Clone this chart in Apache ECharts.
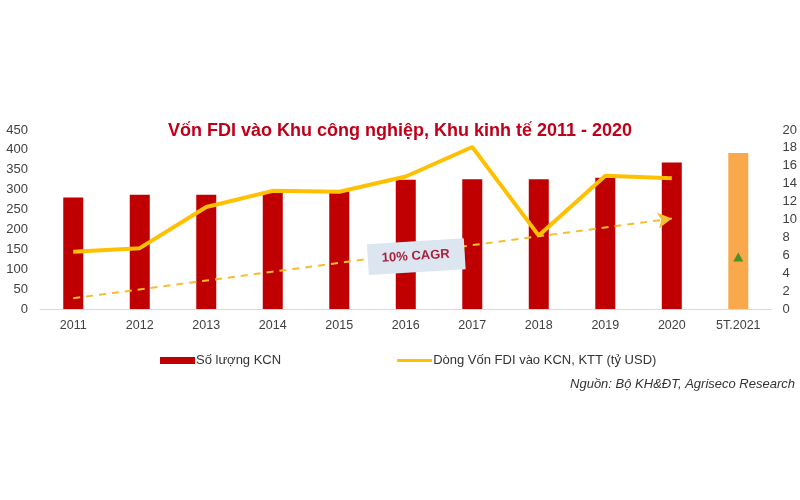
<!DOCTYPE html>
<html>
<head>
<meta charset="utf-8">
<script src="https://cdn.jsdelivr.net/npm/echarts@6/dist/echarts.min.js"></script>
<style>
html,body{margin:0;padding:0;background:#fff;}
#chart{width:800px;height:500px;}
</style>
</head>
<body>
<div id="chart"></div>
<script>
var categories = ['2011','2012','2013','2014','2015','2016','2017','2018','2019','2020','5T.2021'];
var countKCN = [280, 287, 287, 295, 296, 325, 326, 326, 330, 368, 392];
var fdiFlow = [6.4, 6.8, 11.4, 13.2, 13.1, 14.8, 18.1, 8.2, 14.9, 14.6, null];
var fdi2021 = [null, null, null, null, null, null, null, null, null, null, 5.8];
var trendYears = ['2011', '2020'];
var trendValues = [1.2, 10.1];
var leftTicks = {min: 0, max: 450, interval: 50};
var rightTicks = {min: 0, max: 20, interval: 2};

var FONT = '"Liberation Sans", Arial, sans-serif';
var chart = echarts.init(document.getElementById('chart'), null, {renderer: 'canvas'});

var barData = countKCN.map(function (v, i) {
  if (i === countKCN.length - 1) {
    return {value: v, itemStyle: {color: '#F9A84C'}};
  }
  return v;
});

var option = {
  backgroundColor: '#ffffff',
  animation: false,
  textStyle: {fontFamily: FONT},
  title: {
    text: 'Vốn FDI vào Khu công nghiệp, Khu kinh tế 2011 - 2020',
    left: 'center',
    top: 117,
    textStyle: {fontFamily: FONT, fontSize: 18, fontWeight: 'bold', color: '#C0001A'}
  },
  grid: {left: 40, right: 28, top: 130, bottom: 191},
  legend: {
    left: 155,
    top: 349,
    itemWidth: 35,
    itemHeight: 7,
    itemGap: 116,
    symbolKeepAspect: true,
    textStyle: {fontFamily: FONT, fontSize: 13, color: '#333333', padding: [0, 0, 0, -4]},
    data: [
      {name: 'Số lượng KCN', icon: 'rect'},
      {name: 'Dòng Vốn FDI vào KCN, KTT (tỷ USD)', icon: 'path://M0,0H35V3.2H0Z'}
    ]
  },
  xAxis: {
    type: 'category',
    data: categories,
    axisLine: {lineStyle: {color: '#D9D9D9', width: 1}},
    axisTick: {show: false},
    axisLabel: {fontFamily: FONT, fontSize: 12.5, color: '#404040', margin: 10}
  },
  yAxis: [
    {
      type: 'value',
      min: leftTicks.min, max: leftTicks.max, interval: leftTicks.interval,
      axisLine: {show: false}, axisTick: {show: false}, splitLine: {show: false},
      axisLabel: {fontFamily: FONT, fontSize: 13, color: '#404040', margin: 12}
    },
    {
      type: 'value',
      min: rightTicks.min, max: rightTicks.max, interval: rightTicks.interval,
      axisLine: {show: false}, axisTick: {show: false}, splitLine: {show: false},
      axisLabel: {fontFamily: FONT, fontSize: 13, color: '#404040', margin: 11}
    }
  ],
  series: [
    {
      name: 'Số lượng KCN',
      type: 'bar',
      barWidth: 20,
      itemStyle: {color: '#C00000'},
      data: barData,
      z: 2
    },
    {
      name: 'Dòng Vốn FDI vào KCN, KTT (tỷ USD)',
      type: 'line',
      yAxisIndex: 1,
      symbol: 'none',
      connectNulls: false,
      lineStyle: {color: '#FFC000', width: 4},
      itemStyle: {color: '#FFC000'},
      data: fdiFlow,
      z: 4,
      markLine: {
        silent: true,
        symbol: ['none', 'arrow'],
        symbolSize: [12, 14],
        label: {show: false},
        lineStyle: {type: [7, 6], color: '#F5BE2E', width: 2},
        data: [[
          {coord: [trendYears[0], trendValues[0]]},
          {coord: [trendYears[1], trendValues[1]]}
        ]]
      }
    },
    {
      name: 'FDI 5T.2021',
      type: 'scatter',
      yAxisIndex: 1,
      symbol: 'triangle',
      symbolSize: [10, 9],
      itemStyle: {color: '#1E8C1E'},
      data: fdi2021,
      z: 5
    }
  ]
};
chart.setOption(option);

var p = chart.convertToPixel({xAxisIndex: 0, yAxisIndex: 1}, ['2016', 5.9]);
chart.setOption({
  graphic: [
    {
      type: 'group',
      x: p[0] + 10,
      y: p[1],
      rotation: 3.5 * Math.PI / 180,
      z: 100,
      zlevel: 1,
      children: [
        {type: 'rect', z: 100, zlevel: 1, shape: {x: -48, y: -15, width: 97, height: 31}, style: {fill: '#DCE6F0'}},
        {type: 'text', z: 101, zlevel: 1, x: 0, y: 0, style: {text: '10% CAGR', align: 'center', verticalAlign: 'middle', font: 'bold 13px "Liberation Sans", Arial, sans-serif', fill: '#A8203A'}}
      ]
    },
    {
      type: 'text',
      right: 5,
      top: 378,
      z: 100,
      style: {text: 'Nguồn: Bộ KH&ĐT, Agriseco Research', font: 'italic 13px "Liberation Sans", Arial, sans-serif', fill: '#333333'}
    }
  ]
});
</script>
</body>
</html>
